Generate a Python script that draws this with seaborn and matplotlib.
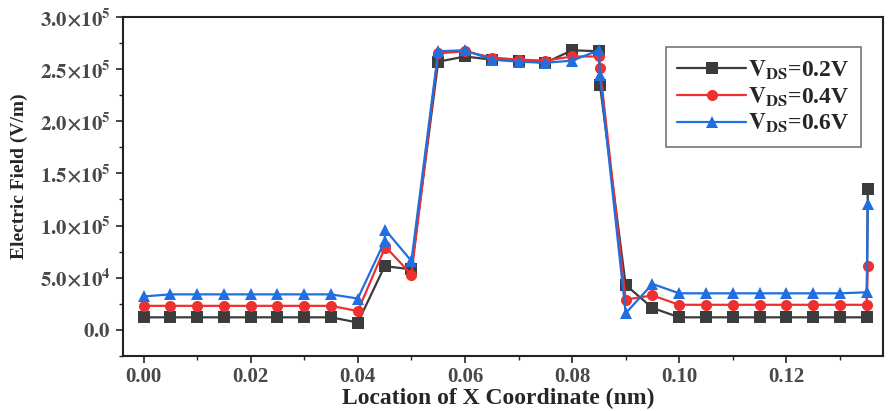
import numpy as np
import pandas as pd
import seaborn as sns
from matplotlib import pyplot as plt
from matplotlib.ticker import FuncFormatter, MultipleLocator

# X positions (nm); duplicated interface points are nudged slightly
x_nm = [0.000, 0.005, 0.010, 0.015, 0.020, 0.025, 0.030, 0.035, 0.040,
        0.045, 0.0451, 0.050, 0.055, 0.060, 0.065, 0.070, 0.075, 0.080,
        0.085, 0.0852, 0.090, 0.095, 0.100, 0.105, 0.110, 0.115, 0.120,
        0.125, 0.130, 0.135, 0.1352]

field_02 = [1.2e4, 1.2e4, 1.2e4, 1.2e4, 1.2e4, 1.2e4, 1.2e4, 1.2e4, 0.7e4,
            6.1e4, 6.1e4, 5.8e4, 2.57e5, 2.62e5, 2.59e5, 2.58e5, 2.56e5, 2.68e5,
            2.67e5, 2.35e5, 4.3e4, 2.1e4, 1.2e4, 1.2e4, 1.2e4, 1.2e4, 1.2e4,
            1.2e4, 1.2e4, 1.2e4, 1.35e5]

field_04 = [2.3e4, 2.3e4, 2.3e4, 2.3e4, 2.3e4, 2.3e4, 2.3e4, 2.3e4, 1.8e4,
            7.8e4, 8.0e4, 5.3e4, 2.65e5, 2.67e5, 2.61e5, 2.59e5, 2.58e5, 2.62e5,
            2.62e5, 2.51e5, 2.9e4, 3.3e4, 2.4e4, 2.4e4, 2.4e4, 2.4e4, 2.4e4,
            2.4e4, 2.4e4, 2.4e4, 6.1e4]

field_06 = [3.2e4, 3.4e4, 3.4e4, 3.4e4, 3.4e4, 3.4e4, 3.4e4, 3.4e4, 3.0e4,
            8.5e4, 9.6e4, 6.6e4, 2.67e5, 2.68e5, 2.59e5, 2.57e5, 2.56e5, 2.58e5,
            2.68e5, 2.44e5, 1.6e4, 4.4e4, 3.5e4, 3.5e4, 3.5e4, 3.5e4, 3.5e4,
            3.5e4, 3.5e4, 3.6e4, 1.21e5]

labels = [r"$\mathbf{V_{DS}}$=0.2V", r"$\mathbf{V_{DS}}$=0.4V", r"$\mathbf{V_{DS}}$=0.6V"]
colors = ["#3c3c3c", "#ee3030", "#1f6fe0"]
markers = ["s", "o", "^"]


def main() -> None:
    sns.set_style("ticks")
    plt.rcParams["font.family"] = ["Liberation Serif", "DejaVu Serif"]
    plt.rcParams["mathtext.fontset"] = "stix"

    df = pd.concat([
        pd.DataFrame({"x": x_nm, "E": vals, "series": lab})
        for vals, lab in zip((field_02, field_04, field_06), labels)
    ])

    fig = plt.figure(figsize=(8.89, 4.11), dpi=100)
    ax = fig.add_axes([0.138, 0.134, 0.855, 0.825])

    sns.lineplot(data=df, x="x", y="E", hue="series", style="series",
                 palette=colors, markers=markers, dashes=False,
                 estimator=None, sort=False, ax=ax,
                 linewidth=1.6, markersize=8, markeredgewidth=0)

    ax.set_xlim(-0.0039, 0.138)
    ax.set_ylim(-2.5e4, 3.0e5)
    ax.xaxis.set_major_locator(MultipleLocator(0.02))
    ax.xaxis.set_minor_locator(MultipleLocator(0.01))
    ax.yaxis.set_major_locator(MultipleLocator(5e4))
    ax.yaxis.set_minor_locator(MultipleLocator(2.5e4))

    def yfmt(v, pos):
        if abs(v) < 1:
            return r"$\mathbf{0.0}$"
        exp = int(np.floor(np.log10(abs(v))))
        mant = v / 10 ** exp
        return r"$\mathbf{%.1f{\times}10^{%d}}$" % (mant, exp)

    ax.yaxis.set_major_formatter(FuncFormatter(yfmt))
    ax.xaxis.set_major_formatter(FuncFormatter(lambda v, p: f"{v:.2f}"))

    ax.tick_params(axis="both", which="major", direction="out", length=5,
                   width=1.2, labelcolor="#484848")
    ax.tick_params(axis="x", which="major", labelsize=15, pad=3)
    ax.tick_params(axis="y", which="major", labelsize=15)
    ax.tick_params(axis="both", which="minor", direction="out", length=3, width=1)
    for lab in ax.get_xticklabels():
        lab.set_fontweight("bold")
    for sp in ax.spines.values():
        sp.set_linewidth(1.5)
        sp.set_color("#222222")

    ax.set_xlabel("")
    fig.text(0.56, 0.006, "Location of X Coordinate (nm)", fontsize=17,
             fontweight="bold", ha="center", va="bottom")
    ax.set_ylabel("Electric Field (V/m)", fontsize=14, fontweight="bold")
    ax.yaxis.set_label_coords(-0.125, 0.53)

    leg = ax.legend(loc="upper right", bbox_to_anchor=(0.972, 0.912),
                    fancybox=False, edgecolor="#555555", handlelength=2.9,
                    prop={"size": 17, "weight": "bold"}, borderpad=0.5,
                    labelspacing=0.15, handletextpad=0.1, borderaxespad=0)
    leg.get_frame().set_linewidth(1.2)

    plt.savefig("out.png", dpi=100)


if __name__ == "__main__":
    main()
